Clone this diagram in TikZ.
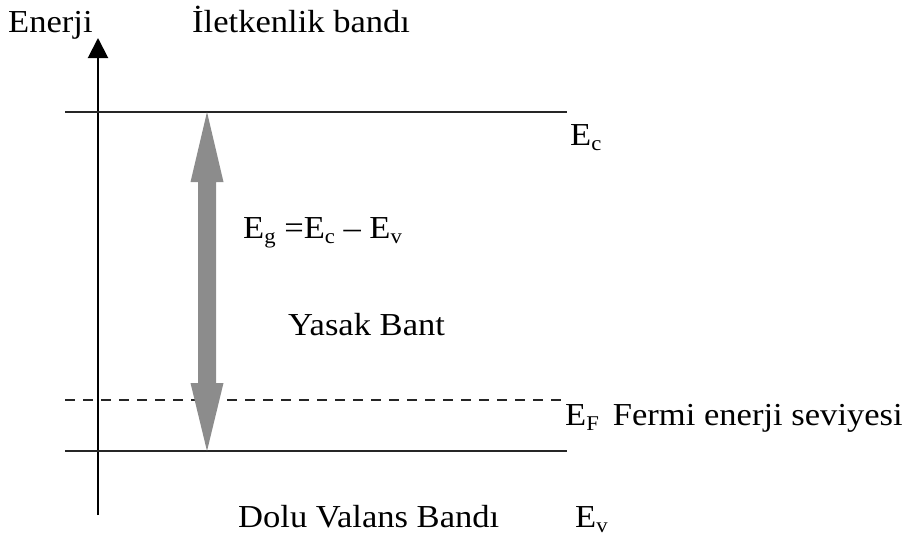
\documentclass[tikz,border=0pt]{standalone}
\usepackage{fontspec}
\setmainfont[FakeStretch=1.08]{Liberation Serif}
\usetikzlibrary{arrows.meta,calc}
\newcommand{\sbs}[1]{\raisebox{-5pt}{\fontsize{21}{22}\selectfont #1}}
\begin{document}
\begin{tikzpicture}[x=1pt,y=-1pt,
  lbl/.style={anchor=base west,inner sep=0pt,font=\fontsize{32}{36}\selectfont},
  level/.style={line width=1.6pt,black!85},
  gapfill/.style={fill=black!45,draw=none}]
\useasboundingbox (0,0) rectangle (912,536);
% axis
\coordinate (axb) at (98,515);
\coordinate (axt) at (98,38);
\draw[line width=2pt,-{Triangle[width=20pt,length=20pt]}] (axb) -- (axt);
% levels
\coordinate (cl) at (65,112); \coordinate (cr) at (567,112);
\coordinate (fl) at (65,400); \coordinate (fr) at (567,400);
\coordinate (vl) at (65,451); \coordinate (vr) at (567,451);
\draw[level] (cl) -- (cr);
\draw[level,dash pattern=on 10pt off 8pt] (fl) -- (fr);
\draw[level] (vl) -- (vr);
% gap arrow (double headed)
\coordinate (gt) at (207,112);
\coordinate (gb) at (207,451);
\fill[gapfill] (gt) -- ($(gt)+(16.5,70)$) -- ($(gt)+(9,70)$) -- ($(gb)+(9,-68)$) -- ($(gb)+(16.5,-68)$)
  -- (gb) -- ($(gb)+(-16.5,-68)$) -- ($(gb)+(-9,-68)$) -- ($(gt)+(-9,70)$) -- ($(gt)+(-16.5,70)$) -- cycle;
% labels
\node[lbl] (enerji) at (8,32) {Enerji};
\node[lbl] (ilet) at (192,32) {İletkenlik bandı};
\node[lbl] (ec) at (570,145) {E\sbs{c}};
\node[lbl] (eg) at (243,238) {E\sbs{g} =E\sbs{c} – E\sbs{v}};
\node[lbl] (yasak) at (288,335) {Yasak Bant};
\node[lbl] (ef) at (565,425) {E\sbs{F}\, Fermi enerji seviyesi};
\node[lbl] (dolu) at (238,527) {Dolu Valans Bandı};
\node[lbl] (ev) at (575,527) {E\sbs{v}};
\end{tikzpicture}
\end{document}
